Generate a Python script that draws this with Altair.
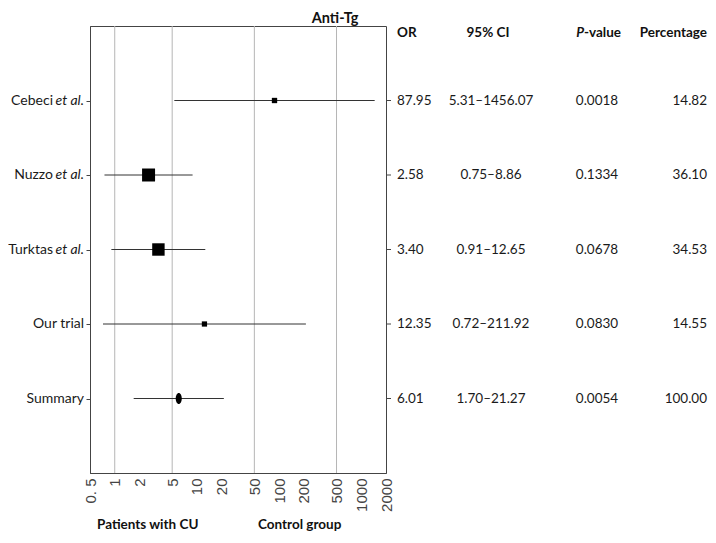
import altair as alt
import pandas as pd

# ---- data ----
studies = ["Cebeci", "Nuzzo", "Turktas", "Our trial", "Summary"]
suffixes = ["et al.", "et al.", "et al.", "", ""]
odds = [87.95, 2.58, 3.40, 12.35, 6.01]
ci_low = [5.31, 0.75, 0.91, 0.72, 1.70]
ci_high = [1456.07, 8.86, 12.65, 211.92, 21.27]
p_values = ["0.0018", "0.1334", "0.0678", "0.0830", "0.0054"]
percentages = [14.82, 36.10, 34.53, 14.55, 100.00]
is_summary = [False, False, False, False, True]

tick_values = [0.5, 1, 2, 5, 10, 20, 50, 100, 200, 500, 1000, 2000]
grid_values = [1, 5, 50, 500]

title_text = "Anti-Tg"
headers = ["OR", "95% CI", "Percentage"]
left_caption = "Patients with CU"
right_caption = "Control group"

df = pd.DataFrame({
    "study": studies,
    "suffix": suffixes,
    "row": list(range(1, len(studies) + 1)),
    "or_val": odds,
    "lo": ci_low,
    "hi": ci_high,
    "or_txt": [f"{v:.2f}" for v in odds],
    "ci_txt": [f"{a:.2f}\u2013{b:.2f}" for a, b in zip(ci_low, ci_high)],
    "p_txt": p_values,
    "pct": percentages,
    "pct_txt": [f"{v:.2f}" for v in percentages],
    "summary": is_summary,
})
grid_df = pd.DataFrame({"g": grid_values})

W, H = 296, 447
FONT = "Lato"
TICKFONT = "Liberation Sans"
TXT = "#1a1a1a"

xscale = alt.Scale(type="log", domain=[0.5, 2000], nice=False)
yscale = alt.Scale(domain=[0, 6], reverse=True, nice=False)

base = alt.Chart(df)

x_axis = alt.Axis(values=tick_values, grid=False, ticks=False, title=None,
                  labelAngle=-90, labelFont=TICKFONT, labelFontSize=15,
                  labelColor="#444", labelPadding=5, domainColor="#444",
                  labelExpr="datum.value < 1 ? '0. 5' : format(datum.value, 'd')",
                  labelOverlap=False, labelBound=False, labelFlush=False)
y_axis = alt.Axis(values=[1, 2, 3, 4, 5], labels=False, title=None, grid=False,
                  tickSize=4, tickColor="#444", domainColor="#444")

grid = alt.Chart(grid_df).mark_rule(color="#b5b5b5", strokeWidth=1).encode(
    x=alt.X("g:Q", scale=xscale, axis=x_axis)
)

ci = base.mark_rule(color="#333", strokeWidth=1).encode(
    x=alt.X("lo:Q", scale=xscale),
    x2="hi:Q",
    y=alt.Y("row:Q", scale=yscale, axis=y_axis),
)

squares = base.transform_filter("!datum.summary").transform_calculate(
    sz="pow(datum.pct * 0.36, 2)"
).mark_square(color="black", opacity=1, filled=True).encode(
    x=alt.X("or_val:Q", scale=xscale),
    y=alt.Y("row:Q", scale=yscale),
    size=alt.Size("sz:Q", scale=None, legend=None),
)

summary = base.transform_filter("datum.summary").mark_point(
    shape="M0,-1A0.55,1,0,1,1,0,1A0.55,1,0,1,1,0,-1Z",
    filled=True, color="black", opacity=1, size=121,
).encode(
    x=alt.X("or_val:Q", scale=xscale),
    y=alt.Y("row:Q", scale=yscale),
)

right_ticks = base.mark_rule(color="#444").encode(
    x=alt.value(W), x2=alt.value(W + 5), y=alt.Y("row:Q", scale=yscale)
)

# study labels (normal + italic parts)
name_with = base.transform_filter("datum.suffix != ''").mark_text(
    align="right", baseline="middle", font=FONT, fontSize=14, color=TXT
).encode(x=alt.value(-37), y=alt.Y("row:Q", scale=yscale), text="study:N")
name_without = base.transform_filter("datum.suffix == ''").mark_text(
    align="right", baseline="middle", font=FONT, fontSize=14, color=TXT
).encode(x=alt.value(-6), y=alt.Y("row:Q", scale=yscale), text="study:N")
name_ital = base.transform_filter("datum.suffix != ''").mark_text(
    align="right", baseline="middle", font=FONT, fontSize=14, fontStyle="italic",
    color=TXT
).encode(x=alt.value(-6), y=alt.Y("row:Q", scale=yscale), text="suffix:N")

# table columns
def col(field, xpix, align):
    return base.mark_text(align=align, baseline="middle", font=FONT,
                          fontSize=13.5, color=TXT).encode(
        x=alt.value(xpix), y=alt.Y("row:Q", scale=yscale), text=f"{field}:N")

or_col = col("or_txt", 307, "left")
ci_col = col("ci_txt", 401, "center")
p_col = col("p_txt", 507, "center")
pct_col = col("pct_txt", 617, "right")

def label(text, xpix, ypix, align="left", bold=True, italic=False, size=13.5):
    kw = dict(align=align, baseline="middle", font=FONT, fontSize=size,
              color="#111", text=text)
    if bold:
        kw["fontWeight"] = "bold"
    if italic:
        kw["fontStyle"] = "italic"
    return alt.Chart(grid_df).transform_filter("datum.g == 1").mark_text(**kw).encode(
        x=alt.value(xpix), y=alt.value(ypix))

texts = [
    label(title_text, 245, -7, align="center", size=14.5),
    label(headers[0], 307, 7),
    label(headers[1], 398, 7, align="center"),
    label("P", 494, 7, align="right", italic=True),
    label("-value", 494, 7, align="left"),
    label(headers[2], 617, 7, align="right"),
    label(left_caption, 7, 499),
    label(right_caption, 168, 499),
]

chart = alt.layer(
    grid, ci, squares, summary, right_ticks,
    name_with, name_without, name_ital,
    or_col, ci_col, p_col, pct_col, *texts
).properties(
    width=W, height=H,
    autosize=alt.AutoSizeParams(type="none"),
    padding={"left": 82, "top": 18, "right": 322, "bottom": 62},
).configure_view(stroke="#444", strokeWidth=1)

chart.save("out.html", embed_options={"renderer": "svg", "actions": False})
